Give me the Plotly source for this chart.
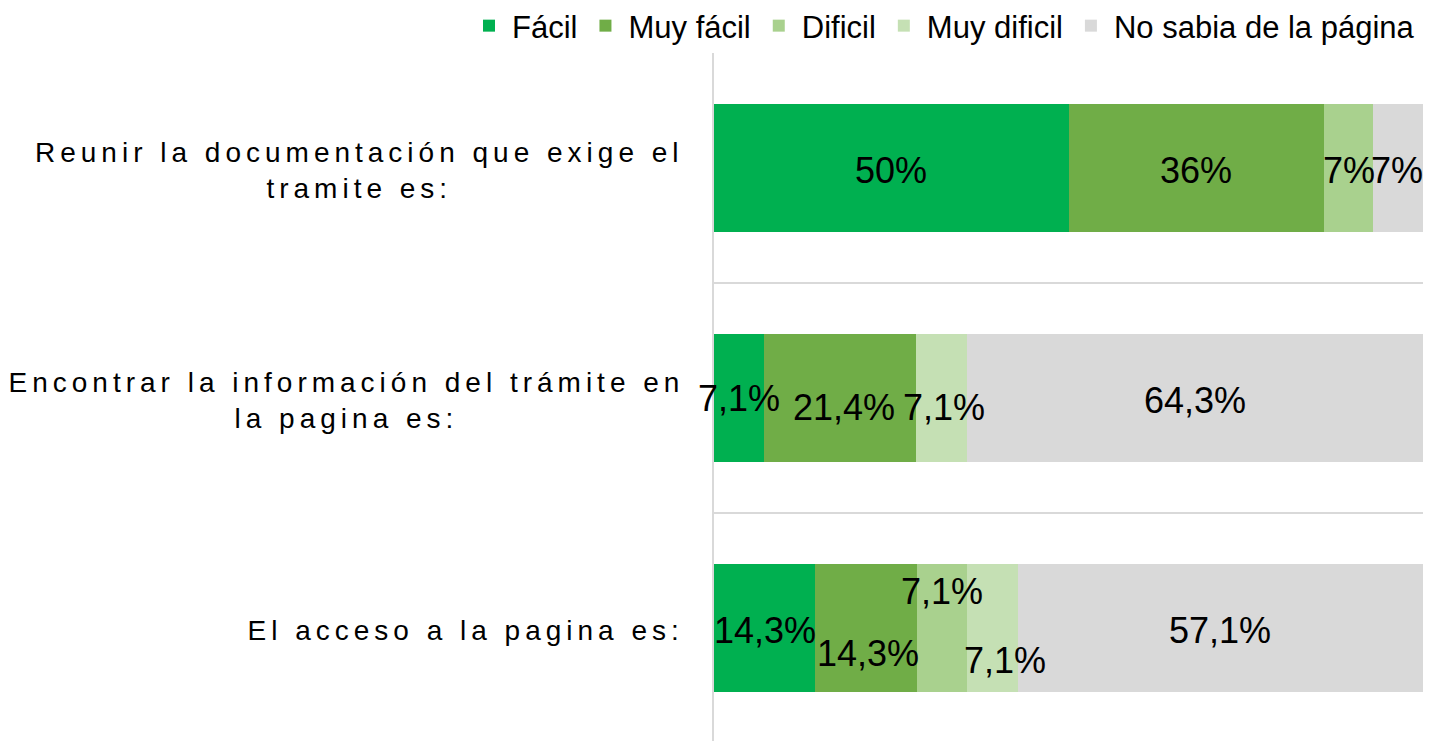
import plotly.graph_objects as go

categories = [
    "El acceso a la pagina es:",
    "Encontrar la información del trámite en<br>la pagina es:",
    "Reunir la documentación que exige el<br>tramite es:",
]
series_names = ["Fácil", "Muy fácil", "Dificil", "Muy dificil", "No sabia de la página"]
facil = [14.3, 7.1, 50]
muy_facil = [14.3, 21.4, 36]
dificil = [7.1, 0, 7]
muy_dificil = [7.1, 7.1, 0]
no_sabia = [57.1, 64.3, 7]
label_text = {
    "Fácil": ["14,3%", "7,1%", "50%"],
    "Muy fácil": ["14,3%", "21,4%", "36%"],
    "Dificil": ["7,1%", "", "7%"],
    "Muy dificil": ["7,1%", "7,1%", ""],
    "No sabia de la página": ["57,1%", "64,3%", "7%"],
}
colors = ["#00B050", "#70AD47", "#A9D18E", "#C5E0B4", "#D9D9D9"]

# label offsets (pixels) for overlapping data labels: (xshift, yshift)
label_offsets = {
    ("Muy fácil", 0): (2, -25),
    ("Dificil", 0): (0, 37),
    ("Muy dificil", 0): (12, -32),
    ("Muy fácil", 1): (4, -9),
    ("Muy dificil", 1): (3, -9),
    ("Fácil", 1): (0, 0),
    ("No sabia de la página", 2): (-1, -2),
}

values = [facil, muy_facil, dificil, muy_dificil, no_sabia]
ypos = list(range(len(categories)))

fig = go.Figure()
for name, vals, col in zip(series_names, values, colors):
    fig.add_trace(go.Bar(
        name=name, y=ypos, x=vals, orientation="h",
        marker=dict(color=col, line=dict(width=0)),
        width=0.56, hoverinfo="x+name",
    ))

annotations = []
for i in ypos:
    total = sum(v[i] for v in values)
    cum = 0.0
    for name, vals in zip(series_names, values):
        v = vals[i] / total * 100
        txt = label_text[name][i]
        if txt:
            dx, dy = label_offsets.get((name, i), (0, -2))
            annotations.append(dict(
                x=cum + v / 2, y=i, xref="x", yref="y", text=txt,
                showarrow=False, xanchor="center", yanchor="middle",
                xshift=dx, yshift=dy,
                font=dict(family="Liberation Sans, Arial", size=36, color="#000000"),
            ))
        cum += v

cat_centers_px = [465.5, 346, 359.5]
plot_left, plot_right = 714, 1423
pw = plot_right - plot_left
for i, cat in enumerate(categories):
    annotations.append(dict(
        x=(cat_centers_px[i] - plot_left) / pw, y=i,
        xref="paper", yref="y", text=cat, showarrow=False,
        xanchor="center", yanchor="middle", align="center", yshift=-2,
        font=dict(family="Liberation Sans, Arial", size=28, color="#000000"),
    ))

fig.update_layout(
    barmode="stack",
    barnorm="percent",
    width=1429, height=741,
    margin=dict(l=plot_left, r=1429 - plot_right, t=53, b=0, autoexpand=False),
    plot_bgcolor="white", paper_bgcolor="white",
    font=dict(family="Liberation Sans, Arial", color="#000000"),
    showlegend=True,
    legend=dict(
        orientation="h", x=(466 - plot_left) / pw, xanchor="left",
        y=1.0, yanchor="bottom", yref="paper", xref="paper",
        font=dict(size=31, color="#000000"),
        itemwidth=36,
        traceorder="normal", bgcolor="rgba(0,0,0,0)",
        itemclick=False,
    ),
    xaxis=dict(range=[0, 100], showgrid=False, showticklabels=False, zeroline=False,
               showline=False, ticks=""),
    yaxis=dict(range=[-0.491, 2.5], tickvals=ypos, showticklabels=False, showgrid=False,
               zeroline=False, showline=True, linecolor="#D9D9D9", linewidth=2, ticks="",
               minor=dict(tickvals=[-0.5, 0.5, 1.5, 2.5], showgrid=True,
                          gridcolor="#D9D9D9", gridwidth=2, ticks="")),
    annotations=annotations,
    bargap=0.44,
)

post = """
document.body.style.margin = '0';
document.body.style.padding = '0';
var gd = document.getElementById('{plot_id}');
function spaceCats(){
  gd.querySelectorAll('.annotation-text').forEach(function(t){
    if (t.textContent.indexOf('%') < 0) { t.style.letterSpacing = '5px'; }
  });
}
spaceCats();
if (gd.on) { gd.on('plotly_afterplot', spaceCats); }
"""
fig.write_html("out.html", post_script=post, config={"displayModeBar": False})
